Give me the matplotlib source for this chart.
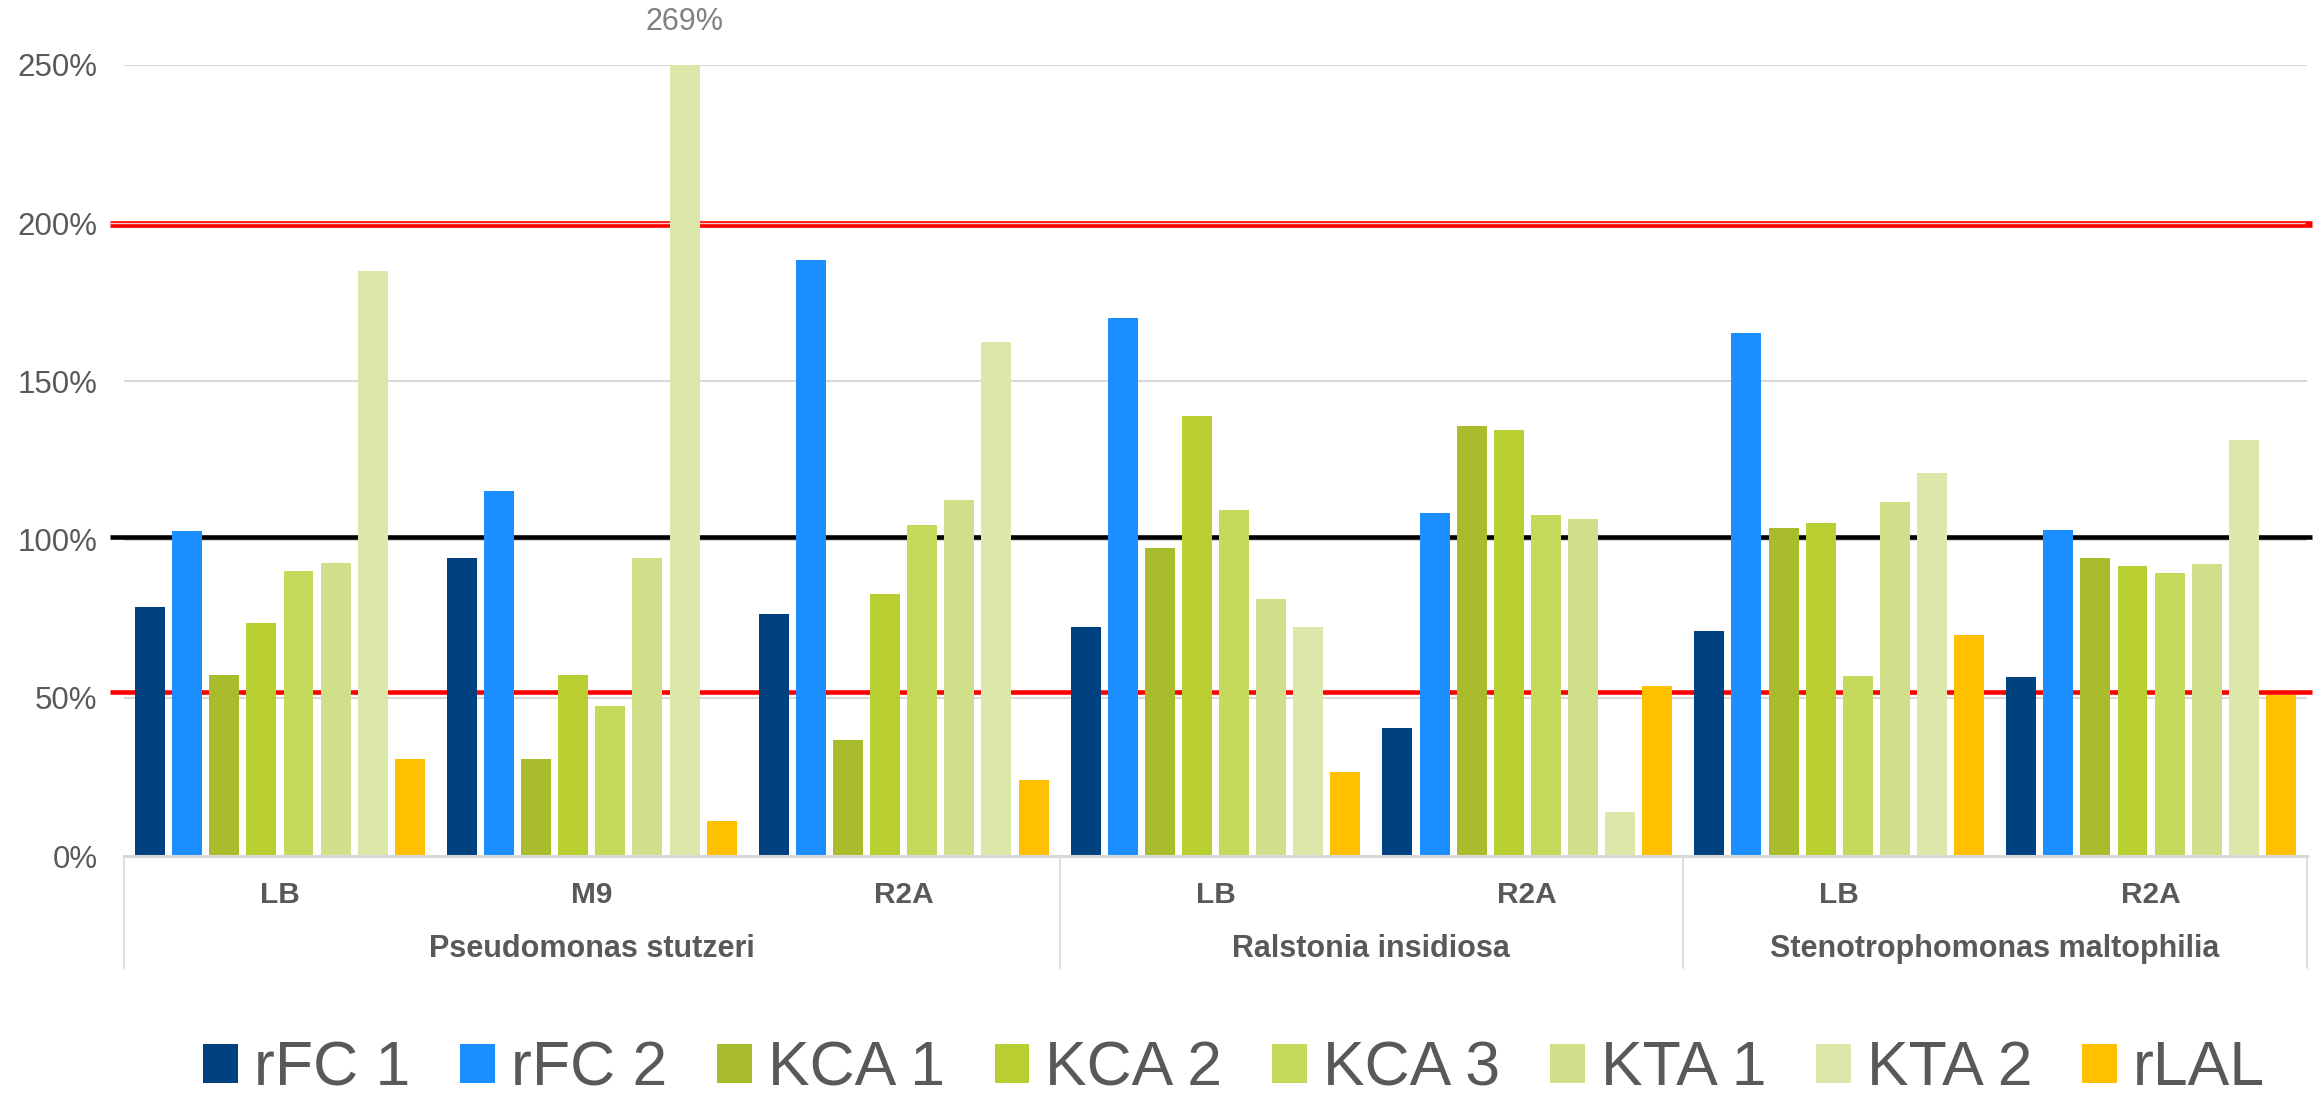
import numpy as np
import matplotlib
matplotlib.use("Agg")
import matplotlib.pyplot as plt
from matplotlib.patches import Patch

plt.rcParams['font.family'] = ['Liberation Sans', 'DejaVu Sans']

# data
series = ['rFC 1', 'rFC 2', 'KCA 1', 'KCA 2', 'KCA 3', 'KTA 1', 'KTA 2', 'rLAL']
media = ['LB', 'M9', 'R2A', 'LB', 'R2A', 'LB', 'R2A']
species = ['Pseudomonas stutzeri', 'Ralstonia insidiosa', 'Stenotrophomonas maltophilia']
species_span = [3, 2, 2]

rfc1 = [78.7, 94.3, 76.5, 72.3, 40.6, 71.0, 56.5]
rfc2 = [102.6, 115.4, 188.5, 169.9, 108.4, 165.3, 103.1]
kca1 = [57.2, 30.5, 36.8, 97.5, 136.0, 103.7, 94.1]
kca2 = [73.7, 57.2, 82.7, 139.0, 134.6, 105.4, 91.7]
kca3 = [90.0, 47.4, 104.5, 109.2, 107.9, 56.8, 89.5]
kta1 = [92.5, 94.3, 112.6, 81.2, 106.5, 111.9, 92.3]
kta2 = [185.0, 269.0, 162.5, 72.3, 13.9, 121.0, 131.5]
rlal = [30.8, 11.1, 23.9, 26.7, 53.8, 69.9, 51.0]
values = [rfc1, rfc2, kca1, kca2, kca3, kta1, kta2, rlal]

colors = ['#004280', '#1b8fff', '#a9bc2b', '#b8ce31', '#c5d95b', '#d1df8b', '#dce7aa', '#ffc000']

ref_low = 51.9
ref_mid = 100.8
ref_high = 199.6

y_max = 250
grey_txt = '#595959'
grid_col = '#d9d9d9'

fig = plt.figure(figsize=(23.18, 11.02), dpi=100)
ax = fig.add_axes([124 / 2318, 1 - 856 / 1102, (2307 - 124) / 2318, (856 - 65) / 1102])

x = np.arange(len(media))
slot = 0.119
width = 0.096

# gridlines
for g in [50, 100, 150, 200, 250]:
    ax.axhline(g, color=grid_col, lw=1.5, zorder=1)

# reference lines (behind the bars)
x0, x1 = -0.545, 6.515
ax.plot([x0, x1], [ref_low, ref_low], color='#ff0000', lw=3.3, zorder=2, clip_on=False, solid_capstyle='butt')
ax.plot([x0, x1], [ref_mid, ref_mid], color='#000000', lw=3.3, zorder=2, clip_on=False, solid_capstyle='butt')
ax.plot([x0, x1], [ref_high, ref_high], color='#ff0000', lw=4.8, zorder=2, clip_on=False, solid_capstyle='butt')
ax.plot([x0, x1 - 0.02], [ref_high + 0.4, ref_high + 0.4], color='#ffc4c4', lw=1.0, zorder=2, clip_on=False, solid_capstyle='butt')

# bars
for j, (vals, c) in enumerate(zip(values, colors)):
    ax.bar(x + (j - 3.5) * slot, vals, width=width, color=c, zorder=3, label=series[j])

# label for clipped bar
i_big = int(np.argmax(kta2))
ax.text(x[i_big] + 2.5 * slot, 263.6, f"{kta2[i_big]:.0f}%", ha='center', va='center',
        fontsize=22, color='#808080', clip_on=False)

ax.set_xlim(-0.5, 6.5)
ax.set_ylim(0, y_max)
ax.set_yticks([0, 50, 100, 150, 200, 250])
ax.set_yticklabels([f"{t}%" for t in [0, 50, 100, 150, 200, 250]])
ax.tick_params(axis='y', length=0, pad=19, labelsize=22.5, labelcolor=grey_txt)
ax.set_xticks([])
for s in ['top', 'right', 'left']:
    ax.spines[s].set_visible(False)
ax.spines['bottom'].set_color(grid_col)
ax.spines['bottom'].set_linewidth(2.2)
ax.spines['bottom'].set_zorder(4)

# multi-level category axis
tr = ax.get_xaxis_transform()
for i, m in enumerate(media):
    ax.text(x[i], -0.0493, m, transform=tr, ha='center', va='center',
            fontsize=21.5, fontweight='bold', color=grey_txt)
edges = np.concatenate([[0], np.cumsum(species_span)]) - 0.5
for e in edges:
    ax.plot([e, e], [0, -0.1416], transform=tr, color=grid_col, lw=1.2, clip_on=False)
for k, sp in enumerate(species):
    ax.text((edges[k] + edges[k + 1]) / 2, -0.118, sp, transform=tr, ha='center', va='center',
            fontsize=22, fontweight='bold', color=grey_txt)

handles = [Patch(facecolor=c, edgecolor='none') for c in colors]
leg = fig.legend(handles, series, loc='center', bbox_to_anchor=(0.5325, 0.03), ncol=8,
                 frameon=False, fontsize=45, handlelength=0.55, handleheight=0.57,
                 handletextpad=0.26, columnspacing=0.8, borderaxespad=0)
for t in leg.get_texts():
    t.set_color(grey_txt)

fig.savefig('out.png', dpi=100)
